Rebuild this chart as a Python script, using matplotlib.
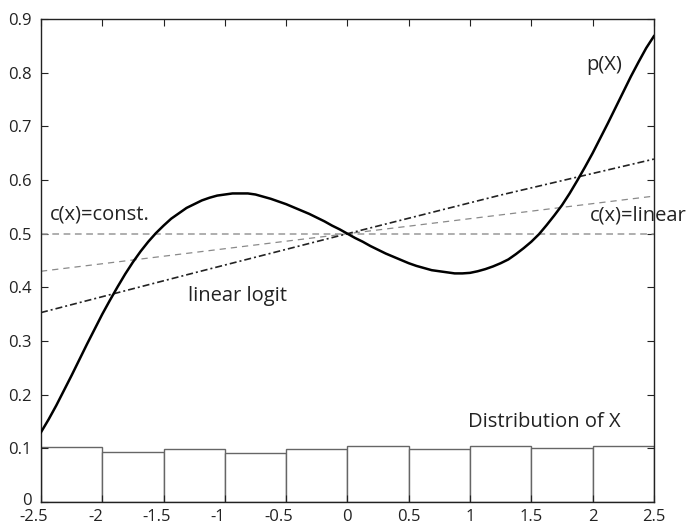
import matplotlib
matplotlib.use('Agg')
import matplotlib.pyplot as plt
from matplotlib.transforms import ScaledTranslation

plt.rcParams['font.family'] = ['Open Sans', 'DejaVu Sans']

# p(X)
x_p = [-2.5, -2.4375, -2.375, -2.3125, -2.25, -2.1875, -2.125, -2.0625,
       -2.0, -1.9375, -1.875, -1.8125, -1.75, -1.6875, -1.625, -1.5625,
       -1.5, -1.4375, -1.375, -1.3125, -1.25, -1.1875, -1.125, -1.0625,
       -1.0, -0.9375, -0.875, -0.8125, -0.75, -0.6875, -0.625, -0.5625,
       -0.5, -0.4375, -0.375, -0.3125, -0.25, -0.1875, -0.125, -0.0625,
       0.0, 0.0625, 0.125, 0.1875, 0.25, 0.3125, 0.375, 0.4375,
       0.5, 0.5625, 0.625, 0.6875, 0.75, 0.8125, 0.875, 0.9375,
       1.0, 1.0625, 1.125, 1.1875, 1.25, 1.3125, 1.375, 1.4375,
       1.5, 1.5625, 1.625, 1.6875, 1.75, 1.8125, 1.875, 1.9375,
       2.0, 2.0625, 2.125, 2.1875, 2.25, 2.3125, 2.375, 2.4375, 2.5]
p_x = [0.130, 0.154, 0.180, 0.208, 0.236, 0.265, 0.294, 0.322,
       0.350, 0.376, 0.401, 0.425, 0.447, 0.467, 0.485, 0.501,
       0.515, 0.528, 0.538, 0.548, 0.555, 0.562, 0.567, 0.571,
       0.573, 0.575, 0.575, 0.575, 0.573, 0.569, 0.565, 0.560,
       0.555, 0.549, 0.543, 0.537, 0.530, 0.523, 0.515, 0.508,
       0.500, 0.492, 0.485, 0.477, 0.470, 0.463, 0.457, 0.451,
       0.445, 0.440, 0.436, 0.432, 0.430, 0.428, 0.426, 0.426,
       0.427, 0.430, 0.434, 0.439, 0.445, 0.452, 0.462, 0.473,
       0.485, 0.499, 0.516, 0.534, 0.553, 0.575, 0.599, 0.624,
       0.650, 0.678, 0.706, 0.735, 0.764, 0.793, 0.820, 0.846, 0.868]

x_logit = [-2.5, -1.25, 0.0, 1.25, 2.5]
linear_logit = [0.353, 0.427, 0.500, 0.572, 0.639]

x_c = [-2.5, 2.5]
c_const = [0.5, 0.5]
c_linear = [0.430, 0.570]

# histogram of X
bin_left = [-2.5, -2.0, -1.5, -1.0, -0.5, 0.0, 0.5, 1.0, 1.5, 2.0]
bin_height = [0.103, 0.094, 0.099, 0.091, 0.098, 0.104, 0.099, 0.104, 0.100, 0.105]

xticks = [-2.5, -2, -1.5, -1, -0.5, 0, 0.5, 1, 1.5, 2, 2.5]
xtick_labels = ['-2.5', '-2', '-1.5', '-1', '-0.5', '0', '0.5', '1', '1.5', '2', '2.5']
yticks = [0, 0.1, 0.2, 0.3, 0.4, 0.5, 0.6, 0.7, 0.8, 0.9]
ytick_labels = ['0', '0.1', '0.2', '0.3', '0.4', '0.5', '0.6', '0.7', '0.8', '0.9']

fig = plt.figure(figsize=(6.91, 5.27), dpi=100)
ax = fig.add_axes([0.0593, 0.0474, 0.887, 0.9165])

ax.bar(bin_left, bin_height, width=0.5, align='edge', facecolor='white',
       edgecolor='#666666', linewidth=1.0, zorder=1)
ax.plot(x_c, c_const, color='#999999', linewidth=1.1, dashes=(4.4, 3.0), zorder=2)
ax.plot(x_c, c_linear, color='#8a8a8a', linewidth=0.9, dashes=(5.0, 4.0), zorder=2)
ax.plot(x_logit, linear_logit, color='#222222', linewidth=1.2,
        dashes=(4.2, 1.8, 1.2, 1.8), zorder=3)
ax.plot(x_p, p_x, color='black', linewidth=1.8, zorder=4,
        solid_joinstyle='round')

tfs = 14.5
ax.text(-2.43, 0.527, 'c(x)=const.', fontsize=tfs, color='#222222')
ax.text(-1.3, 0.375, 'linear logit', fontsize=tfs, color='#222222')
ax.text(1.95, 0.805, 'p(X)', fontsize=tfs, color='#222222')
ax.text(1.98, 0.525, 'c(x)=linear', fontsize=tfs, color='#222222')
ax.text(0.98, 0.139, 'Distribution of X', fontsize=tfs, color='#222222')

ax.set_xlim(-2.5, 2.5)
ax.set_ylim(0, 0.9)
ax.set_xticks(xticks)
ax.set_xticklabels(xtick_labels)
ax.set_yticks(yticks)
ax.set_yticklabels(ytick_labels)
ax.tick_params(direction='in', length=5, width=0.8, top=True, right=True,
               labelsize=12, colors='#222222', pad=5)
ax.tick_params(axis='y', pad=7)
for s in ax.spines.values():
    s.set_linewidth(1.0)
    s.set_color('#222222')

# negative x labels sit a little left of their ticks in the original
for lab, t in zip(ax.get_xticklabels(), xticks):
    if t < 0:
        lab.set_transform(lab.get_transform() + ScaledTranslation(-7 / 100, 0, fig.dpi_scale_trans))
# lift the y "0" a touch so it clears "-2.5"
ylab0 = ax.get_yticklabels()[0]
ylab0.set_transform(ylab0.get_transform() + ScaledTranslation(0, 3 / 100, fig.dpi_scale_trans))

fig.savefig('out.png', dpi=100)
